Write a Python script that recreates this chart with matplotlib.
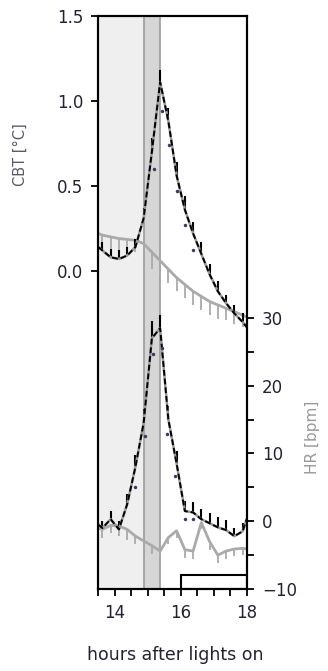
import numpy as np
import matplotlib
matplotlib.use("Agg")
import matplotlib.pyplot as plt
from matplotlib.patches import Rectangle

plt.rcParams['font.family'] = ['DejaVu Sans']

# time grid (hours after lights on)
hours = [13.5, 13.625, 13.875, 14.125, 14.375, 14.625, 14.875, 15.125, 15.375,
         15.625, 15.875, 16.125, 16.375, 16.625, 16.875, 17.125, 17.375,
         17.625, 17.875, 18.0]

# core body temperature, change in degC
cbt_black = [0.14, 0.12, 0.08, 0.07, 0.09, 0.14, 0.31, 0.70, 1.11,
             0.88, 0.56, 0.36, 0.22, 0.10, -0.02, -0.12, -0.19,
             -0.25, -0.30, -0.33]
cbt_black_err = [0.0, 0.05, 0.05, 0.05, 0.05, 0.05, 0.06, 0.08, 0.07,
                 0.08, 0.08, 0.08, 0.07, 0.07, 0.06, 0.06, 0.05,
                 0.05, 0.05, 0.0]
cbt_gray = [0.22, 0.21, 0.20, 0.19, 0.185, 0.18, 0.16, 0.11, 0.06,
            0.01, -0.04, -0.08, -0.12, -0.15, -0.18, -0.20, -0.22,
            -0.24, -0.26, -0.27]
cbt_gray_err = [0.0, 0.08, 0.09, 0.09, 0.08, 0.07, 0.08, 0.10, 0.09,
                0.08, 0.08, 0.08, 0.08, 0.08, 0.08, 0.08, 0.07,
                0.07, 0.07, 0.0]

# heart rate, change in bpm
hr_black = [-0.5, -1.0, 0.3, -1.2, 2.5, 8.0, 14.5, 27.0, 28.5,
            15.0, 8.5, 1.5, 1.3, 0.3, -0.3, -0.9, -1.3,
            -2.2, -1.5, 0.3]
hr_black_err = [0.0, 1.0, 1.2, 1.2, 1.5, 1.8, 2.0, 2.5, 2.0,
                2.0, 1.8, 1.5, 1.5, 1.5, 1.5, 1.5, 1.5,
                1.2, 1.2, 0.0]
hr_gray = [-1.0, -1.2, -0.6, -0.7, -1.2, -2.2, -2.9, -3.6, -4.4,
           -2.4, -1.4, -4.2, -4.4, -0.2, -3.0, -5.0, -4.4,
           -4.1, -4.0, -4.1]
hr_gray_err = [0.0, 1.2, 1.2, 1.5, 1.5, 1.2, 1.2, 1.2, 1.0,
               1.0, 1.0, 1.2, 1.2, 1.0, 1.2, 1.2, 1.2,
               1.0, 1.0, 0.0]

# significance dots
cbt_dot_t = [15.18, 15.44, 15.65, 15.88, 16.14, 16.38]
cbt_dot_v = [0.60, 0.94, 0.74, 0.47, 0.27, 0.12]
hr_dot_t = [14.62, 14.92, 15.17, 15.44, 15.57, 15.83, 16.13, 16.38]
hr_dot_v = [5.0, 12.6, 24.7, 25.5, 12.9, 6.7, 0.3, 0.3]

light_span = (13.5, 14.9)
dark_span = (14.9, 15.37)
box_x, box_w, box_y, box_h = 16, 2, -10, 2

fig = plt.figure(figsize=(3.28, 6.71), dpi=100)
ax = fig.add_axes([0.2997, 0.1222, 0.4524, 0.8544])
ax2 = ax.twinx()
ax.set_zorder(ax2.get_zorder() + 1)
ax.patch.set_visible(False)

# background shading on the hr axes (behind)
ax2.axvspan(*light_span, color='#efefef', lw=0, zorder=0)
ax2.axvspan(*dark_span, color='#d6d6d6', lw=0, zorder=0)
for xv in dark_span:
    ax2.axvline(xv, color='#9a9a9a', lw=1.2, zorder=0.5)

t = np.array(hours)

# CBT
ax.errorbar(t, cbt_gray, yerr=[cbt_gray_err, np.zeros(len(t))], fmt='none',
            ecolor='#aaaaaa', elinewidth=1.3, capsize=0)
ax.plot(t, cbt_gray, color='#aaaaaa', lw=2)
ax.errorbar(t, cbt_black, yerr=[np.zeros(len(t)), cbt_black_err], fmt='none',
            ecolor='black', elinewidth=1.5, capsize=0)
ax.plot(t, cbt_black, color='#999999', lw=1.8)
ax.plot(t, cbt_black, color='black', lw=1.4, ls=(0, (3, 1.5)))
ax.plot(cbt_dot_t, cbt_dot_v, 'o', ms=2.5, color='#3a3a66', mec='none')

# HR
ax2.errorbar(t, hr_gray, yerr=[hr_gray_err, np.zeros(len(t))], fmt='none',
             ecolor='#aaaaaa', elinewidth=1.3, capsize=0, zorder=2)
ax2.plot(t, hr_gray, color='#aaaaaa', lw=2, zorder=2)
ax2.errorbar(t, hr_black, yerr=[np.zeros(len(t)), hr_black_err], fmt='none',
             ecolor='black', elinewidth=1.5, capsize=0, zorder=3)
ax2.plot(t, hr_black, color='#999999', lw=1.8, zorder=3)
ax2.plot(t, hr_black, color='black', lw=1.4, ls=(0, (3, 1.5)), zorder=3)
ax2.plot(hr_dot_t, hr_dot_v, 'o', ms=2.5, color='#3a3a66', mec='none', zorder=4)

ax2.add_patch(Rectangle((box_x, box_y), box_w, box_h, fill=False,
                        ec='black', lw=1.5, zorder=4))

ax.set_xlim(13.5, 18)
ax.set_ylim(-1.87, 1.5)
ax2.set_ylim(-10, 74.6)

tick_col = '#222233'
ax.set_yticks([0.0, 0.5, 1.0, 1.5])
ax.set_yticklabels(['0.0', '0.5', '1.0', '1.5'])
ax2.set_yticks([-10, 0, 10, 20, 30])
ax2.set_yticks([-5, 5, 15, 25], minor=True)
ax.set_xticks([14, 16, 18])
ax.set_xticks([13.5, 14.5, 15, 15.5, 16.5, 17, 17.5], minor=True)

for a in (ax, ax2):
    a.tick_params(which='both', direction='out', length=5, width=1.3,
                  labelsize=12, colors='black', labelcolor=tick_col, pad=6)
    for s in a.spines.values():
        s.set_linewidth(1.5)

fig.text(0.061, 0.77, 'CBT [°C]', rotation=90, fontsize=10.5, color='#5a5a6a',
         ha='center', va='center')
fig.text(0.952, 0.349, 'HR [bpm]', rotation=90, fontsize=11, color='#999999',
         ha='center', va='center')
fig.text(0.534, 0.024, 'hours after lights on', fontsize=12.5, color=tick_col,
         ha='center', va='center')

fig.savefig('out.png', dpi=100)
